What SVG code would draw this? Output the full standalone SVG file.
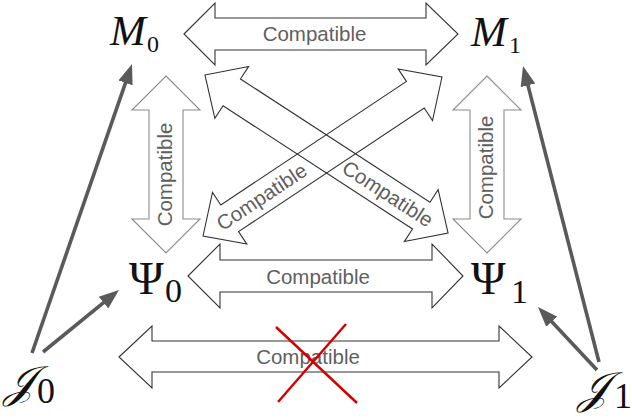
<svg xmlns="http://www.w3.org/2000/svg" width="632" height="418" viewBox="0 0 632 418">
<style>
.dbl{fill:none;stroke:#333;stroke-width:1.1;stroke-linejoin:miter}
.dblg{fill:none;stroke:#8c8c8c;stroke-width:1.1}
.lbl{font-family:"Liberation Sans",Arial,sans-serif;font-size:20.5px;fill:#5f5f5f;text-anchor:middle}
.math{font-family:"Liberation Serif","Times New Roman",serif;fill:#111}
.ptr{stroke:#5a5a5a;stroke-width:3.6;fill:none;marker-end:url(#ah)}
.cross{stroke:#d40000;stroke-width:2.4}
</style>
<defs>
<marker id="ah" viewBox="0 -8 20 16" markerWidth="20" markerHeight="16" refX="8" refY="0" orient="auto" markerUnits="userSpaceOnUse">
<path d="M0,-7.5 L20,0 L0,7.5 z" fill="#5a5a5a"/>
</marker>
</defs>
<rect width="632" height="418" fill="#fff"/>

<g id="M0"><text class="math" x="110" y="45" font-size="43"><tspan font-style="italic">M</tspan><tspan font-size="24" x="147" y="52">0</tspan></text></g>
<g id="M1"><text class="math" x="471" y="46" font-size="43"><tspan font-style="italic">M</tspan><tspan font-size="24" x="509" y="53">1</tspan></text></g>
<g id="Psi0"><text class="math" x="129" y="294" font-size="47">Ψ<tspan font-size="34" x="165" y="302">0</tspan></text></g>
<g id="Psi1"><text class="math" x="471" y="294" font-size="47">Ψ<tspan font-size="34" x="511" y="303">1</tspan></text></g>
<g id="J0"><text class="math" x="4" y="397" font-size="44" font-style="italic">𝒥<tspan font-style="normal" font-size="36" x="37" y="403">0</tspan></text></g>
<g id="J1"><text class="math" x="578" y="403" font-size="44" font-style="italic">𝒥<tspan font-style="normal" font-size="36" x="614" y="408">1</tspan></text></g>

<g id="connectors">
<g id="M0-M1">
<polygon class="dbl" points="184,34 215,3 215,18 426,18 426,3 458,34 426,65 426,50 215,50 215,65"/>
<text class="lbl" x="314.5" y="41">Compatible</text>
</g>
<g id="Psi0-Psi1">
<polygon class="dbl" points="188,276 220,244 220,260 432,260 432,244 463,276 432,308 432,292 220,292 220,308"/>
<text class="lbl" x="318" y="284">Compatible</text>
</g>
<g id="J0-J1">
<polygon class="dbl" points="119,357 152,326 152,341 499,341 499,326 532,357 499,388 499,372 152,372 152,388"/>
<text class="lbl" x="308" y="364">Compatible</text>
<line class="cross" x1="276" y1="327" x2="357" y2="403"/>
<line class="cross" x1="346" y1="324" x2="278" y2="402"/>
</g>
<g id="M0-Psi0">
<polygon class="dblg" points="166,76 200,110 183,110 183,219 200,219 166,253 132,219 149,219 149,110 132,110"/>
<text class="lbl" transform="translate(172,174.5) rotate(-90)">Compatible</text>
</g>
<g id="M1-Psi1">
<polygon class="dblg" points="487,76 521,110 504,110 504,219 521,219 487,253 453,219 470,219 470,110 453,110"/>
<text class="lbl" transform="translate(493,167.5) rotate(-90)">Compatible</text>
</g>
<g id="M0-Psi1" transform="translate(326.5,154) rotate(33.03)">
<polygon class="dbl" points="-145,0 -113,-31 -113,-16 113,-16 113,-31 145,0 113,31 113,16 -113,16 -113,31"/>
<text class="lbl" x="73" y="7">Compatible</text>
</g>
<g id="Psi0-M1" transform="translate(322.5,156.5) rotate(-33.64)">
<polygon class="dbl" points="-143.5,0 -111.5,-31 -111.5,-16 111.5,-16 111.5,-31 143.5,0 111.5,31 111.5,16 -111.5,16 -111.5,31"/>
<text class="lbl" x="-73" y="7">Compatible</text>
</g>
<line class="ptr" x1="32" y1="353" x2="128.1" y2="75.3"/>
<line class="ptr" x1="43" y1="352" x2="109.7" y2="297.6"/>
<line class="ptr" x1="599" y1="362" x2="526" y2="77.6"/>
<line class="ptr" x1="597" y1="370" x2="546.2" y2="315.8"/>
</g>
</svg>
